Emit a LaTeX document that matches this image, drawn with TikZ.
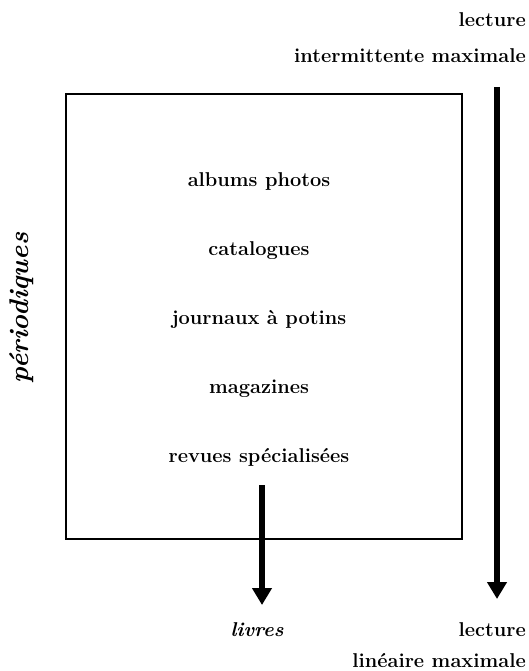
\documentclass[tikz,border=0pt]{standalone}
\usetikzlibrary{arrows.meta}
\begin{document}
\begin{tikzpicture}[x=1pt,y=-1pt,
    label/.style={font=\fontsize{20}{24}\selectfont\bfseries, inner sep=0pt},
    bigarrow/.style={line width=6pt, -{Triangle[width=19pt,length=17pt]}}]
  \useasboundingbox (0,0) rectangle (529,671);
  % box
  \draw[line width=1.4pt] (66,94) rectangle (462,539);
  % list inside
  \node[label, anchor=base] (albums) at (259,186) {albums photos};
  \node[label, anchor=base] (catalogues) at (259,255) {catalogues};
  \node[label, anchor=base] (journaux) at (259,324) {journaux à potins};
  \node[label, anchor=base] (magazines) at (259,393) {magazines};
  \node[label, anchor=base] (revues) at (259,462) {revues spécialisées};
  \node[label, font=\fontsize{27}{31}\selectfont\bfseries\itshape, rotate=90] (periodiques) at (22,308) {périodiques};
  \node[label, font=\fontsize{20}{24}\selectfont\bfseries\itshape, anchor=base] (livres) at (257,636) {livres};
  % right side
  \node[label, anchor=base east] (lecturehaut) at (526,27) {lecture};
  \node[label, anchor=base east] (intermittente) at (526,63) {intermittente maximale};
  \node[label, anchor=base east] (lecturebas) at (526,636) {lecture};
  \node[label, anchor=base east] (lineaire) at (526,667) {linéaire maximale};
  % arrows
  \coordinate (rstart) at (497,87);
  \coordinate (rend) at (497,599);
  \coordinate (lstart) at (262,485);
  \coordinate (lend) at (262,605);
  \draw[bigarrow] (rstart) -- (rend);
  \draw[bigarrow] (lstart) -- (lend);
\end{tikzpicture}
\end{document}
